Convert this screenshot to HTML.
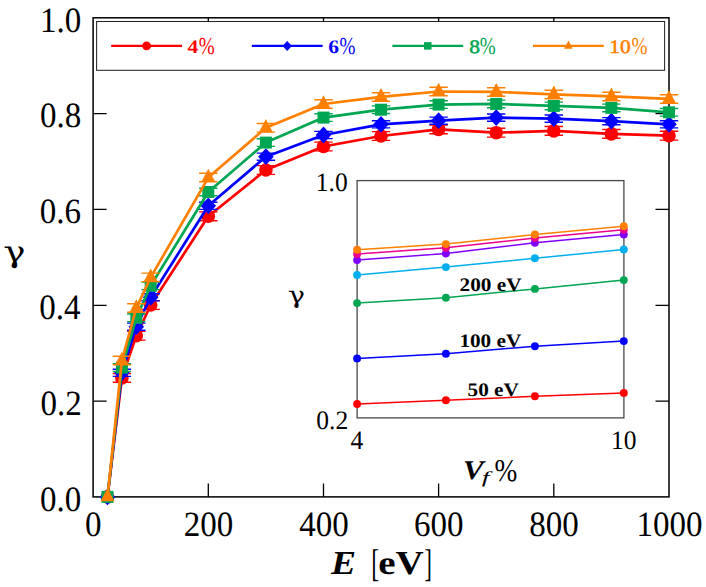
<!DOCTYPE html>
<html><head><meta charset="utf-8"><title>gamma vs E</title>
<style>html,body{margin:0;padding:0;background:#fff;width:706px;height:587px;overflow:hidden}svg{display:block}text{font-family:"Liberation Serif","DejaVu Serif",serif}</style></head><body>
<svg width="706" height="587" viewBox="0 0 706 587" text-rendering="geometricPrecision">
<rect width="706" height="587" fill="#fff"/>
<g stroke="#000" stroke-width="1.3" fill="none">
<path d="M208.3 496.9v-13.5M208.3 17.8v13.5"/>
<path d="M323.5 496.9v-13.5M323.5 17.8v13.5"/>
<path d="M438.6 496.9v-13.5M438.6 17.8v13.5"/>
<path d="M553.8 496.9v-13.5M553.8 17.8v13.5"/>
<path d="M93.1 401.1h13.5M669.0 401.1h-13.5"/>
<path d="M93.1 305.3h13.5M669.0 305.3h-13.5"/>
<path d="M93.1 209.4h13.5M669.0 209.4h-13.5"/>
<path d="M93.1 113.6h13.5M669.0 113.6h-13.5"/>
</g>
<rect x="93.1" y="17.8" width="575.9" height="479.09999999999997" fill="none" stroke="#000" stroke-width="1.5"/>
<g>
<polyline points="107.5,496.9 121.9,377.9 136.3,335.7 150.7,305.0 208.3,216.3 265.9,170.0 323.5,146.5 381.0,136.0 438.6,129.4 496.2,132.7 553.8,130.9 611.4,133.9 669.0,135.7" fill="none" stroke="#ff0000" stroke-width="2.7" stroke-linejoin="round"/>
<path d="M121.9 373.5V382.3M112.7 373.5h18.4M112.7 382.3h18.4M136.3 331.3V340.1M127.1 331.3h18.4M127.1 340.1h18.4M150.7 300.6V309.4M141.5 300.6h18.4M141.5 309.4h18.4M208.3 211.9V220.7M199.1 211.9h18.4M199.1 220.7h18.4M265.9 165.6V174.4M256.7 165.6h18.4M256.7 174.4h18.4M323.5 142.1V150.9M314.3 142.1h18.4M314.3 150.9h18.4M381.0 131.6V140.4M371.8 131.6h18.4M371.8 140.4h18.4M438.6 125.0V133.8M429.4 125.0h18.4M429.4 133.8h18.4M496.2 128.3V137.1M487.0 128.3h18.4M487.0 137.1h18.4M553.8 126.5V135.3M544.6 126.5h18.4M544.6 135.3h18.4M611.4 129.5V138.3M602.2 129.5h18.4M602.2 138.3h18.4M669.0 131.3V140.1M659.8 131.3h18.4M659.8 140.1h18.4" stroke="#ff0000" stroke-width="1.4" fill="none"/>
<circle cx="107.5" cy="496.9" r="6.80" fill="#ff0000"/>
<circle cx="121.9" cy="377.9" r="6.80" fill="#ff0000"/>
<circle cx="136.3" cy="335.7" r="6.80" fill="#ff0000"/>
<circle cx="150.7" cy="305.0" r="6.80" fill="#ff0000"/>
<circle cx="208.3" cy="216.3" r="6.80" fill="#ff0000"/>
<circle cx="265.9" cy="170.0" r="6.80" fill="#ff0000"/>
<circle cx="323.5" cy="146.5" r="6.80" fill="#ff0000"/>
<circle cx="381.0" cy="136.0" r="6.80" fill="#ff0000"/>
<circle cx="438.6" cy="129.4" r="6.80" fill="#ff0000"/>
<circle cx="496.2" cy="132.7" r="6.80" fill="#ff0000"/>
<circle cx="553.8" cy="130.9" r="6.80" fill="#ff0000"/>
<circle cx="611.4" cy="133.9" r="6.80" fill="#ff0000"/>
<circle cx="669.0" cy="135.7" r="6.80" fill="#ff0000"/>
</g>
<g>
<polyline points="107.5,496.9 121.9,372.8 136.3,326.7 150.7,297.3 208.3,205.8 265.9,156.7 323.5,135.0 381.0,124.3 438.6,120.7 496.2,117.6 553.8,118.6 611.4,121.2 669.0,124.3" fill="none" stroke="#0000ff" stroke-width="2.7" stroke-linejoin="round"/>
<path d="M121.9 369.2V376.4M112.7 369.2h18.4M112.7 376.4h18.4M136.3 323.1V330.3M127.1 323.1h18.4M127.1 330.3h18.4M150.7 293.7V300.9M141.5 293.7h18.4M141.5 300.9h18.4M208.3 202.2V209.4M199.1 202.2h18.4M199.1 209.4h18.4M265.9 153.1V160.3M256.7 153.1h18.4M256.7 160.3h18.4M323.5 131.4V138.6M314.3 131.4h18.4M314.3 138.6h18.4M381.0 120.7V127.9M371.8 120.7h18.4M371.8 127.9h18.4M438.6 117.1V124.3M429.4 117.1h18.4M429.4 124.3h18.4M496.2 114.0V121.2M487.0 114.0h18.4M487.0 121.2h18.4M553.8 115.0V122.2M544.6 115.0h18.4M544.6 122.2h18.4M611.4 117.6V124.8M602.2 117.6h18.4M602.2 124.8h18.4M669.0 120.7V127.9M659.8 120.7h18.4M659.8 127.9h18.4" stroke="#0000ff" stroke-width="1.4" fill="none"/>
<path d="M107.5 488.5L115.3 496.9L107.5 505.3L99.7 496.9Z" fill="#0000ff"/>
<path d="M121.9 364.4L129.7 372.8L121.9 381.2L114.1 372.8Z" fill="#0000ff"/>
<path d="M136.3 318.3L144.1 326.7L136.3 335.1L128.5 326.7Z" fill="#0000ff"/>
<path d="M150.7 288.9L158.5 297.3L150.7 305.7L142.9 297.3Z" fill="#0000ff"/>
<path d="M208.3 197.4L216.1 205.8L208.3 214.2L200.5 205.8Z" fill="#0000ff"/>
<path d="M265.9 148.3L273.7 156.7L265.9 165.1L258.1 156.7Z" fill="#0000ff"/>
<path d="M323.5 126.6L331.3 135.0L323.5 143.4L315.7 135.0Z" fill="#0000ff"/>
<path d="M381.0 115.9L388.8 124.3L381.0 132.7L373.2 124.3Z" fill="#0000ff"/>
<path d="M438.6 112.3L446.4 120.7L438.6 129.1L430.8 120.7Z" fill="#0000ff"/>
<path d="M496.2 109.2L504.0 117.6L496.2 126.0L488.4 117.6Z" fill="#0000ff"/>
<path d="M553.8 110.2L561.6 118.6L553.8 127.0L546.0 118.6Z" fill="#0000ff"/>
<path d="M611.4 112.8L619.2 121.2L611.4 129.6L603.6 121.2Z" fill="#0000ff"/>
<path d="M669.0 115.9L676.8 124.3L669.0 132.7L661.2 124.3Z" fill="#0000ff"/>
</g>
<g>
<polyline points="107.5,496.9 121.9,367.6 136.3,317.8 150.7,285.8 208.3,192.0 265.9,142.6 323.5,117.6 381.0,109.7 438.6,104.6 496.2,103.9 553.8,105.9 611.4,107.9 669.0,112.3" fill="none" stroke="#00a651" stroke-width="2.7" stroke-linejoin="round"/>
<path d="M121.9 363.8V371.4M112.7 363.8h18.4M112.7 371.4h18.4M136.3 314.0V321.6M127.1 314.0h18.4M127.1 321.6h18.4M150.7 282.0V289.6M141.5 282.0h18.4M141.5 289.6h18.4M208.3 188.2V195.8M199.1 188.2h18.4M199.1 195.8h18.4M265.9 138.8V146.4M256.7 138.8h18.4M256.7 146.4h18.4M323.5 113.8V121.4M314.3 113.8h18.4M314.3 121.4h18.4M381.0 105.9V113.5M371.8 105.9h18.4M371.8 113.5h18.4M438.6 100.8V108.4M429.4 100.8h18.4M429.4 108.4h18.4M496.2 100.1V107.7M487.0 100.1h18.4M487.0 107.7h18.4M553.8 102.1V109.7M544.6 102.1h18.4M544.6 109.7h18.4M611.4 104.1V111.7M602.2 104.1h18.4M602.2 111.7h18.4M669.0 108.5V116.1M659.8 108.5h18.4M659.8 116.1h18.4" stroke="#00a651" stroke-width="1.4" fill="none"/>
<rect x="101.5" y="490.9" width="12.0" height="12.0" fill="#00a651"/>
<rect x="115.9" y="361.6" width="12.0" height="12.0" fill="#00a651"/>
<rect x="130.3" y="311.8" width="12.0" height="12.0" fill="#00a651"/>
<rect x="144.7" y="279.8" width="12.0" height="12.0" fill="#00a651"/>
<rect x="202.3" y="186.0" width="12.0" height="12.0" fill="#00a651"/>
<rect x="259.9" y="136.6" width="12.0" height="12.0" fill="#00a651"/>
<rect x="317.5" y="111.6" width="12.0" height="12.0" fill="#00a651"/>
<rect x="375.0" y="103.7" width="12.0" height="12.0" fill="#00a651"/>
<rect x="432.6" y="98.6" width="12.0" height="12.0" fill="#00a651"/>
<rect x="490.2" y="97.9" width="12.0" height="12.0" fill="#00a651"/>
<rect x="547.8" y="99.9" width="12.0" height="12.0" fill="#00a651"/>
<rect x="605.4" y="101.9" width="12.0" height="12.0" fill="#00a651"/>
<rect x="663.0" y="106.3" width="12.0" height="12.0" fill="#00a651"/>
</g>
<g>
<polyline points="107.5,496.9 121.9,360.5 136.3,308.0 150.7,277.4 208.3,177.6 265.9,127.8 323.5,104.0 381.0,96.9 438.6,91.5 496.2,91.9 553.8,94.4 611.4,96.4 669.0,98.9" fill="none" stroke="#ff8000" stroke-width="2.7" stroke-linejoin="round"/>
<path d="M121.9 356.2V364.8M112.7 356.2h18.4M112.7 364.8h18.4M136.3 303.8V312.2M127.1 303.8h18.4M127.1 312.2h18.4M150.7 273.1V281.6M141.5 273.1h18.4M141.5 281.6h18.4M208.3 173.3V181.8M199.1 173.3h18.4M199.1 181.8h18.4M265.9 123.5V132.1M256.7 123.5h18.4M256.7 132.1h18.4M323.5 99.8V108.2M314.3 99.8h18.4M314.3 108.2h18.4M381.0 92.7V101.2M371.8 92.7h18.4M371.8 101.2h18.4M438.6 87.2V95.8M429.4 87.2h18.4M429.4 95.8h18.4M496.2 87.7V96.2M487.0 87.7h18.4M487.0 96.2h18.4M553.8 90.2V98.7M544.6 90.2h18.4M544.6 98.7h18.4M611.4 92.2V100.7M602.2 92.2h18.4M602.2 100.7h18.4M669.0 94.7V103.2M659.8 94.7h18.4M659.8 103.2h18.4" stroke="#ff8000" stroke-width="1.4" fill="none"/>
<path d="M107.50 488.05L114.50 501.35L100.50 501.35Z" fill="#ff8000"/>
<path d="M121.89 351.65L128.89 364.95L114.89 364.95Z" fill="#ff8000"/>
<path d="M136.29 299.15L143.29 312.45L129.29 312.45Z" fill="#ff8000"/>
<path d="M150.69 268.55L157.69 281.85L143.69 281.85Z" fill="#ff8000"/>
<path d="M208.28 168.75L215.28 182.05L201.28 182.05Z" fill="#ff8000"/>
<path d="M265.87 118.95L272.87 132.25L258.87 132.25Z" fill="#ff8000"/>
<path d="M323.46 95.15L330.46 108.45L316.46 108.45Z" fill="#ff8000"/>
<path d="M381.05 88.05L388.05 101.35L374.05 101.35Z" fill="#ff8000"/>
<path d="M438.64 82.65L445.64 95.95L431.64 95.95Z" fill="#ff8000"/>
<path d="M496.23 83.05L503.23 96.35L489.23 96.35Z" fill="#ff8000"/>
<path d="M553.82 85.55L560.82 98.85L546.82 98.85Z" fill="#ff8000"/>
<path d="M611.41 87.55L618.41 100.85L604.41 100.85Z" fill="#ff8000"/>
<path d="M669.00 90.05L676.00 103.35L662.00 103.35Z" fill="#ff8000"/>
</g>
<rect x="96.6" y="21.5" width="568.0" height="48.8" fill="#fff" stroke="#000" stroke-opacity=".85" stroke-width="1.05"/>
<path d="M111.2 45.9h70.8" stroke="#ff0000" stroke-width="2.1"/>
<circle cx="146.6" cy="45.9" r="4.40" fill="#ff0000"/>
<text transform="translate(187.43 52.70) scale(1.1303 1)" font-size="19.01" font-weight="bold" fill="#ff0000">4</text>
<text transform="translate(198.68 53.70) scale(0.7864 1)" font-size="24.35" fill="#ff0000">%</text>
<path d="M251.8 45.9h70.8" stroke="#0000ff" stroke-width="2.1"/>
<path d="M287.2 40.9L291.9 45.9L287.2 50.9L282.5 45.9Z" fill="#0000ff"/>
<text transform="translate(328.20 52.70) scale(1.1303 1)" font-size="19.01" font-weight="bold" fill="#0000ff">6</text>
<text transform="translate(339.58 53.70) scale(0.7864 1)" font-size="24.35" fill="#0000ff">%</text>
<path d="M392.4 45.9h70.8" stroke="#00a651" stroke-width="2.1"/>
<rect x="424.0" y="42.1" width="7.5" height="7.5" fill="#00a651"/>
<text transform="translate(469.29 52.70) scale(1.1303 1)" font-size="19.01" fill="#00a651" stroke="#00a651" stroke-width="0.5">8</text>
<text transform="translate(479.78 53.70) scale(0.7864 1)" font-size="24.35" fill="#00a651">%</text>
<path d="M533.0 45.9h70.8" stroke="#ff8000" stroke-width="2.1"/>
<path d="M568.40 40.41L572.74 48.66L564.06 48.66Z" fill="#ff8000"/>
<text transform="translate(609.22 52.70) scale(1.1303 1)" font-size="19.01" fill="#ff8000" stroke="#ff8000" stroke-width="0.5">10</text>
<text transform="translate(631.58 53.70) scale(0.7864 1)" font-size="24.35" fill="#ff8000">%</text>
<text transform="translate(85.04 536.44) scale(0.9289 1)" font-size="35.56">0</text>
<text transform="translate(183.63 536.44) scale(0.9289 1)" font-size="35.56">200</text>
<text transform="translate(299.18 536.44) scale(0.9289 1)" font-size="35.56">400</text>
<text transform="translate(413.99 536.44) scale(0.9289 1)" font-size="35.56">600</text>
<text transform="translate(529.25 536.44) scale(0.9289 1)" font-size="35.56">800</text>
<text transform="translate(636.45 536.44) scale(0.9289 1)" font-size="35.56">1000</text>
<text transform="translate(39.95 510.77) scale(0.9289 1)" font-size="35.56">0.0</text>
<text transform="translate(40.53 414.95) scale(0.9289 1)" font-size="35.56">0.2</text>
<text transform="translate(39.21 319.13) scale(0.9289 1)" font-size="35.56">0.4</text>
<text transform="translate(39.71 223.31) scale(0.9289 1)" font-size="35.56">0.6</text>
<text transform="translate(39.95 127.49) scale(0.9289 1)" font-size="35.56">0.8</text>
<text transform="translate(39.95 31.67) scale(0.9289 1)" font-size="35.56">1.0</text>
<text transform="translate(4.69 261.53) scale(1.2385 1) skewX(12)" font-size="29.86" style="font-family:'DejaVu Serif',serif;font-style:italic">γ</text>
<text transform="translate(331.08 574.20) scale(1.1200 1)" font-size="33.59" font-weight="bold" font-style="italic">E</text>
<text transform="translate(371.29 576.48) scale(0.6091 1)" font-size="38.67">[</text>
<text transform="translate(378.23 573.99) scale(1.1569 1)" font-size="33.73" font-weight="bold">eV</text>
<text transform="translate(424.42 576.48) scale(0.5746 1)" font-size="38.67">]</text>
<rect x="357.1" y="180.6" width="266.8" height="237.3" fill="#fff" stroke="#484848" stroke-width="1.3"/>
<polyline points="357.1,404.0 445.9,400.3 534.9,396.3 623.8,392.9" fill="none" stroke="#ff0000" stroke-width="1.5"/>
<circle cx="357.1" cy="404.0" r="3.95" fill="#ff0000"/>
<circle cx="445.9" cy="400.3" r="3.95" fill="#ff0000"/>
<circle cx="534.9" cy="396.3" r="3.95" fill="#ff0000"/>
<circle cx="623.8" cy="392.9" r="3.95" fill="#ff0000"/>
<polyline points="357.1,358.4 445.9,353.8 534.9,346.2 623.8,341.1" fill="none" stroke="#0000ff" stroke-width="1.5"/>
<circle cx="357.1" cy="358.4" r="3.95" fill="#0000ff"/>
<circle cx="445.9" cy="353.8" r="3.95" fill="#0000ff"/>
<circle cx="534.9" cy="346.2" r="3.95" fill="#0000ff"/>
<circle cx="623.8" cy="341.1" r="3.95" fill="#0000ff"/>
<polyline points="357.1,303.1 445.9,297.7 534.9,288.9 623.8,280.1" fill="none" stroke="#00a651" stroke-width="1.5"/>
<circle cx="357.1" cy="303.1" r="3.95" fill="#00a651"/>
<circle cx="445.9" cy="297.7" r="3.95" fill="#00a651"/>
<circle cx="534.9" cy="288.9" r="3.95" fill="#00a651"/>
<circle cx="623.8" cy="280.1" r="3.95" fill="#00a651"/>
<polyline points="357.1,275.0 445.9,267.1 534.9,258.3 623.8,249.5" fill="none" stroke="#00aeef" stroke-width="1.5"/>
<circle cx="357.1" cy="275.0" r="3.95" fill="#00aeef"/>
<circle cx="445.9" cy="267.1" r="3.95" fill="#00aeef"/>
<circle cx="534.9" cy="258.3" r="3.95" fill="#00aeef"/>
<circle cx="623.8" cy="249.5" r="3.95" fill="#00aeef"/>
<polyline points="357.1,260.1 445.9,253.5 534.9,242.7 623.8,234.5" fill="none" stroke="#8000ff" stroke-width="1.5"/>
<circle cx="357.1" cy="260.1" r="3.95" fill="#8000ff"/>
<circle cx="445.9" cy="253.5" r="3.95" fill="#8000ff"/>
<circle cx="534.9" cy="242.7" r="3.95" fill="#8000ff"/>
<circle cx="623.8" cy="234.5" r="3.95" fill="#8000ff"/>
<polyline points="357.1,254.0 445.9,247.8 534.9,237.9 623.8,229.7" fill="none" stroke="#ec008c" stroke-width="1.5"/>
<circle cx="357.1" cy="254.0" r="3.95" fill="#ec008c"/>
<circle cx="445.9" cy="247.8" r="3.95" fill="#ec008c"/>
<circle cx="534.9" cy="237.9" r="3.95" fill="#ec008c"/>
<circle cx="623.8" cy="229.7" r="3.95" fill="#ec008c"/>
<polyline points="357.1,249.8 445.9,244.1 534.9,234.5 623.8,226.3" fill="none" stroke="#ff8000" stroke-width="1.5"/>
<circle cx="357.1" cy="249.8" r="3.95" fill="#ff8000"/>
<circle cx="445.9" cy="244.1" r="3.95" fill="#ff8000"/>
<circle cx="534.9" cy="234.5" r="3.95" fill="#ff8000"/>
<circle cx="623.8" cy="226.3" r="3.95" fill="#ff8000"/>
<text transform="translate(459.60 290.91) scale(1.1101 1)" font-size="19.12" font-weight="bold">200 eV</text>
<text transform="translate(459.40 346.81) scale(1.1101 1)" font-size="19.12" font-weight="bold">100 eV</text>
<text transform="translate(467.55 396.21) scale(1.1101 1)" font-size="19.12" font-weight="bold">50 eV</text>
<text transform="translate(315.87 191.30) scale(0.9584 1)" font-size="26.62">1.0</text>
<text transform="translate(316.31 429.20) scale(0.9584 1)" font-size="26.62">0.2</text>
<text transform="translate(350.51 449.10) scale(0.9584 1)" font-size="26.62">4</text>
<text transform="translate(611.11 449.13) scale(0.9584 1)" font-size="26.62">10</text>
<text transform="translate(288.92 302.92) scale(1.2044 1) skewX(12)" font-size="23.70" style="font-family:'DejaVu Serif',serif;font-style:italic">γ</text>
<text transform="translate(463.12 479.19) scale(1.1474 1)" font-size="27.01" font-weight="bold" font-style="italic">V</text>
<text transform="translate(481.63 482.81) scale(1.6249 1)" font-size="16.89" font-style="italic">f</text>
<text transform="translate(494.61 480.90) scale(0.8622 1)" font-size="31.73">%</text>
</svg></body></html>
